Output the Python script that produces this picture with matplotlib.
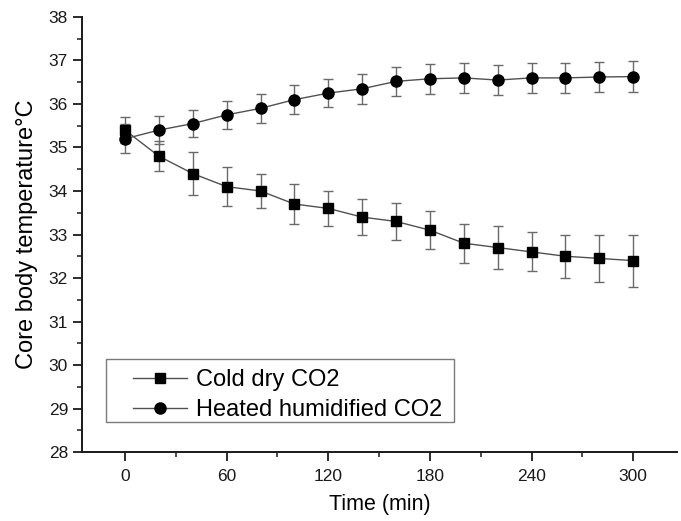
import matplotlib
matplotlib.use("Agg")
import matplotlib.pyplot as plt
from matplotlib.ticker import MultipleLocator
from matplotlib.patches import Rectangle

plt.rcParams['font.family'] = ['Liberation Sans', 'DejaVu Sans']

time_min = [0, 20, 40, 60, 80, 100, 120, 140, 160, 180, 200, 220, 240, 260, 280, 300]
cold_dry = [35.4, 34.8, 34.4, 34.1, 34.0, 33.7, 33.6, 33.4, 33.3, 33.1, 32.8, 32.7, 32.6, 32.5, 32.45, 32.4]
cold_dry_err = [0.3, 0.35, 0.5, 0.45, 0.4, 0.45, 0.4, 0.42, 0.43, 0.44, 0.45, 0.5, 0.45, 0.5, 0.55, 0.6]
heated = [35.2, 35.4, 35.55, 35.75, 35.9, 36.1, 36.25, 36.35, 36.52, 36.58, 36.6, 36.55, 36.6, 36.6, 36.62, 36.63]
heated_err = [0.33, 0.32, 0.32, 0.33, 0.33, 0.33, 0.33, 0.34, 0.34, 0.34, 0.35, 0.35, 0.35, 0.35, 0.35, 0.35]
labels = ["Cold dry CO2", "Heated humidified CO2"]

fig = plt.figure(figsize=(6.81, 5.21), dpi=100)
ax = fig.add_axes([0.1204, 0.1324, 0.874, 0.835])

err_kw = dict(ecolor='#6a6a6a', elinewidth=1.0, capsize=3.8, capthick=1.0)
eb1 = ax.errorbar(time_min, cold_dry, yerr=cold_dry_err, color='#505050', lw=1.0,
                  marker='s', ms=7.5, mfc='black', mec='black', **err_kw)
eb2 = ax.errorbar(time_min, heated, yerr=heated_err, color='#505050', lw=1.0,
                  marker='o', ms=8, mfc='black', mec='black', **err_kw)

ax.set_xlim(-25.4, 326)
ax.set_ylim(28, 38)
ax.xaxis.set_major_locator(MultipleLocator(60))
ax.xaxis.set_minor_locator(MultipleLocator(30))
ax.yaxis.set_major_locator(MultipleLocator(1))
ax.yaxis.set_minor_locator(MultipleLocator(0.5))

for s in ['top', 'right']:
    ax.spines[s].set_visible(False)
for s in ['left', 'bottom']:
    ax.spines[s].set_linewidth(1.4)
    ax.spines[s].set_color('#1a1a1a')

ax.tick_params(which='major', direction='out', length=6.5, width=1.3, labelsize=12.5, colors='#1a1a1a')
ax.tick_params(which='minor', direction='out', length=3.5, width=1.1, colors='#1a1a1a')
ax.tick_params(axis='x', which='major', pad=6)

ax.set_xlabel("Time (min)", fontsize=15.5, labelpad=7)
ax.set_ylabel("Core body temperature°C", fontsize=17, labelpad=8)

# legend frame
ax.add_patch(Rectangle((0.040, 0.069), 0.585, 0.145, transform=ax.transAxes,
                       fill=False, edgecolor='#7a7a7a', lw=1.0, zorder=4))
leg = ax.legend([eb1.lines[0], eb2.lines[0]], labels, loc='center left',
                bbox_to_anchor=(0.086, 0.131), frameon=False,
                fontsize=17, handlelength=2.3, handletextpad=0.35,
                labelspacing=0.33, borderpad=0.0, borderaxespad=0)

fig.savefig("out.png", dpi=100)
